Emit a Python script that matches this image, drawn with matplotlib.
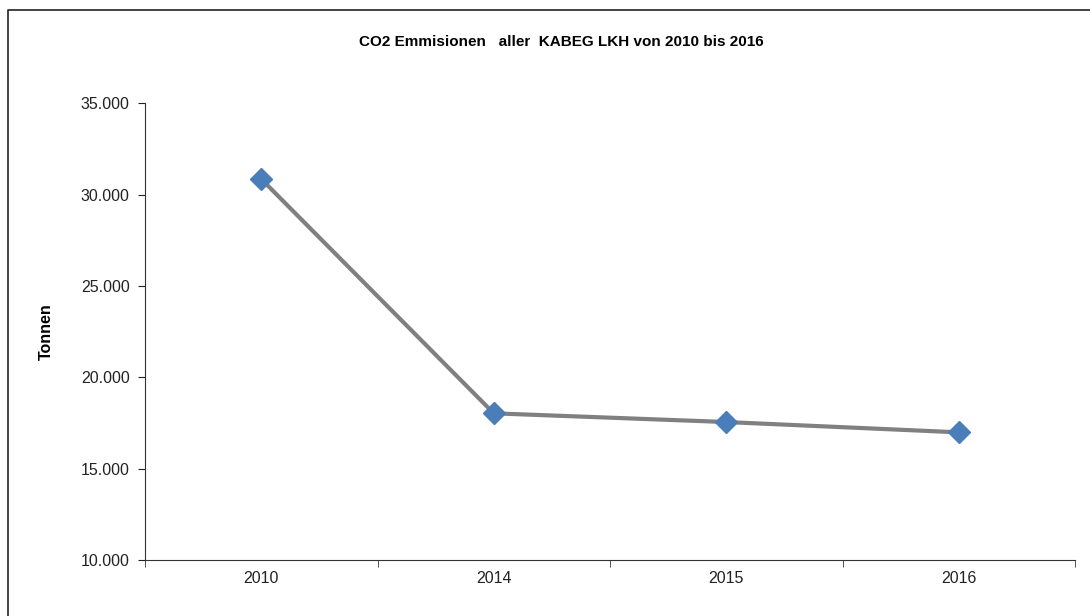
import matplotlib.pyplot as plt
from matplotlib.lines import Line2D
from matplotlib.ticker import FuncFormatter

years = ['2010', '2014', '2015', '2016']
tonnen = [30856, 18029, 17552, 16988]

plt.rcParams['font.family'] = ['Liberation Sans', 'DejaVu Sans']

W, H = 1090, 616
fig = plt.figure(figsize=(W / 100, H / 100), dpi=100)
ax = fig.add_axes([145 / W, 1 - 560 / H, (1075 - 145) / W, (560 - 103.3) / H])

x = list(range(len(years)))
ax.plot(x, tonnen, color='#808080', linewidth=3, zorder=2)
ax.plot(x, tonnen, linestyle='none', marker='D', markersize=11,
        color='#4a7ebb', markeredgecolor='#4a7ebb', zorder=3)

ax.set_xlim(-0.5, len(years) - 0.5)
ax.set_ylim(10000, 35000)
ax.set_yticks(range(10000, 35001, 5000))
ax.yaxis.set_major_formatter(FuncFormatter(lambda v, p: '{:,.0f}'.format(v).replace(',', '.')))
ax.set_xticks(x)
ax.set_xticklabels(years)
ax.set_xticks([i - 0.5 for i in range(len(years) + 1)], minor=True)
ax.tick_params(axis='x', which='major', length=0, pad=8, labelsize=11.5, colors='#222222')
ax.tick_params(axis='x', which='minor', length=5, direction='out', color='#333333')
ax.tick_params(axis='y', length=5, direction='out', labelsize=11.5, colors='#222222', pad=6)
for s in ['top', 'right']:
    ax.spines[s].set_visible(False)
for s in ['left', 'bottom']:
    ax.spines[s].set_color('#333333')

ax.set_ylabel('Tonnen', fontsize=11.5, fontweight='bold')
ax.yaxis.set_label_coords((54 - 145) / 930, 0.5)

fig.text(561 / W, 1 - 42 / H, 'CO2 Emmisionen   aller  KABEG LKH von 2010 bis 2016',
         ha='center', va='center', fontsize=11, fontweight='bold')

# chart area border (left and top only visible)
fig.add_artist(Line2D([8 / W, 8 / W, 1.0], [0.0, 1 - 10 / H, 1 - 10 / H],
                      transform=fig.transFigure, color='#222222', linewidth=1.2))

fig.savefig('out.png', dpi=100)
